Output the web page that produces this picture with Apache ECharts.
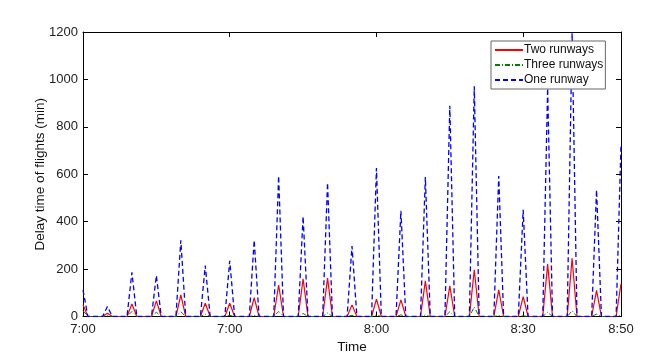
<!DOCTYPE html>
<html>
<head>
<meta charset="utf-8">
<script src="https://cdn.jsdelivr.net/npm/echarts@6/dist/echarts.min.js"></script>
<style>
  html, body { margin: 0; padding: 0; background: #fff; }
  #main { width: 653px; height: 362px; }
</style>
</head>
<body>
<div id="main"></div>
<script>
// peaks every 5 minutes from 7:00 (minute 0) to 8:50 (minute 110)
var peakMinutes = [0, 5, 10, 15, 20, 25, 30, 35, 40, 45, 50, 55, 60, 65, 70, 75, 80, 85, 90, 95, 100, 105, 110];
var twoRunways   = [50, 14, 53, 66, 91, 56, 56, 80, 133, 159, 162, 49, 73, 70, 150, 129, 197, 112, 84, 221, 246, 110, 138];
var threeRunways = [25, 5, 21, 18, 20, 10, 5, 5, 21, 13, 15, 5, 6, 7, 6, 20, 40, 5, 3, 18, 24, 10, 5];
var oneRunway    = [112, 42, 186, 173, 321, 215, 235, 322, 593, 422, 564, 297, 626, 446, 588, 889, 971, 593, 450, 963, 1195, 534, 724];

var tickValues = [0, 30, 60, 90, 110];
var tickLabels = ['7:00', '7:00', '8:00', '8:30', '8:50'];

var xMin = 0, xMax = 110;

// each peak: zero one minute before, value at the peak, zero one minute after
var buildSeries = function (values) {
    var res = [];
    for (var i = 0; i < peakMinutes.length; i++) {
        var t = peakMinutes[i];
        if (t > xMin) res.push([t - 1, 0]);
        res.push([t, values[i]]);
        if (t < xMax) res.push([t + 1, 0]);
    }
    return res;
};

var chart = echarts.init(document.getElementById('main'));
var font = '"Liberation Sans", Arial, Helvetica, sans-serif';

var boxLine = { onZero: false, lineStyle: { color: '#000', width: 1 } };
var boxTick = { show: true, inside: true, length: 5, lineStyle: { color: '#000' } };

var option = {
    animation: false,
    textStyle: { fontFamily: font },
    grid: { left: 83, right: 32, top: 32, bottom: 45.5 },
    legend: {
        orient: 'vertical',
        left: 491,
        top: 41,
        padding: [3, 2, 3, 3],
        itemWidth: 28,
        itemHeight: 10,
        itemGap: 3,
        backgroundColor: '#fff',
        borderColor: '#666',
        borderWidth: 1,
        borderRadius: 0,
        itemStyle: { opacity: 0 },
        textStyle: { color: '#111', fontSize: 12, fontFamily: font, padding: [0, 0, 0, -4] },
        data: ['Two runways', 'Three runways', 'One runway']
    },
    xAxis: [
        {
            type: 'value',
            min: xMin,
            max: xMax,
            interval: 30,
            name: 'Time',
            nameLocation: 'middle',
            nameGap: 22,
            nameTextStyle: { color: '#111', fontSize: 13.5, fontFamily: font },
            axisLine: boxLine,
            axisTick: boxTick,
            axisLabel: {
                color: '#222', fontSize: 13, margin: 6, fontFamily: font,
                showMinLabel: true, showMaxLabel: true,
                formatter: function (v) {
                    var i = tickValues.indexOf(v);
                    return i >= 0 ? tickLabels[i] : '';
                }
            },
            splitLine: { show: false }
        },
        {
            type: 'value',
            position: 'top',
            min: xMin,
            max: xMax,
            interval: 30,
            axisLine: boxLine,
            axisTick: boxTick,
            axisLabel: { show: false },
            splitLine: { show: false }
        }
    ],
    yAxis: [
        {
            type: 'value',
            min: 0,
            max: 1200,
            interval: 200,
            name: 'Delay time of flights (min)',
            nameLocation: 'middle',
            nameGap: 36,
            nameMoveOverlap: false,
            nameTextStyle: { color: '#111', fontSize: 13.5, fontFamily: font },
            axisLine: { show: true, onZero: false, lineStyle: { color: '#000', width: 1 } },
            axisTick: boxTick,
            axisLabel: {
                color: '#222', fontSize: 13, margin: 5, fontFamily: font,
                formatter: function (v) { return String(v); }
            },
            splitLine: { show: false }
        },
        {
            type: 'value',
            position: 'right',
            min: 0,
            max: 1200,
            interval: 200,
            axisLine: { show: true, onZero: false, lineStyle: { color: '#000', width: 1 } },
            axisTick: boxTick,
            axisLabel: { show: false },
            splitLine: { show: false }
        }
    ],
    series: [
        {
            name: 'Two runways',
            type: 'line',
            symbol: 'none',
            clip: true,
            data: buildSeries(twoRunways),
            itemStyle: { color: '#ff0000' },
            lineStyle: { color: '#ff0000', width: 1.2, type: 'solid' }
        },
        {
            name: 'Three runways',
            type: 'line',
            symbol: 'none',
            clip: true,
            data: buildSeries(threeRunways),
            itemStyle: { color: '#008000' },
            lineStyle: { color: '#008000', width: 1, type: [5, 2, 1, 2] }
        },
        {
            name: 'One runway',
            type: 'line',
            symbol: 'none',
            clip: true,
            data: buildSeries(oneRunway),
            itemStyle: { color: '#0000ff' },
            lineStyle: { color: '#0000ff', width: 1.3, type: [5, 3] }
        }
    ]
};

chart.setOption(option);
</script>
</body>
</html>
